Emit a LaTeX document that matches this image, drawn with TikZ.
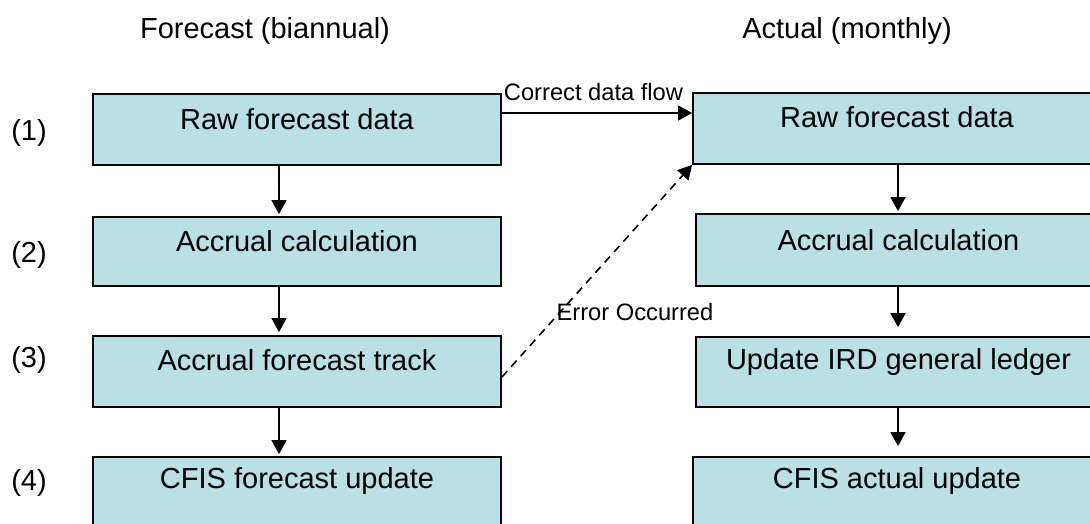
\documentclass[tikz,border=0pt]{standalone}
\usepackage{fontspec}
\setmainfont{Liberation Sans}
\usetikzlibrary{arrows.meta}
\definecolor{boxfill}{RGB}{185,224,228}
\tikzset{
  flowbox/.style={draw=black, fill=boxfill, line width=1.8pt, inner sep=0pt},
  boxtext/.style={font=\fontsize{29}{34}\selectfont, inner sep=0pt},
  headtext/.style={font=\fontsize{29}{34}\selectfont, inner sep=0pt},
  rowlabel/.style={font=\fontsize{29}{34}\selectfont, inner sep=0pt},
  smalllabel/.style={font=\fontsize{23.7}{28}\selectfont, inner sep=0pt},
  arr/.style={line width=1.6pt, -{Triangle[length=14pt,width=15pt]}},
  dasharr/.style={arr, dash pattern=on 8pt off 6pt}
}
\begin{document}
\begin{tikzpicture}[x=1pt,y=-1pt]
\useasboundingbox (0,0) rectangle (1090,523);
\clip (0,0) rectangle (1090,523);
% headers
\node[headtext] (h1) at (265,31) {Forecast (biannual)};
\node[headtext] (h2) at (847,31) {Actual (monthly)};
% row labels
\node[rowlabel] (n1) at (29,133) {(1)};
\node[rowlabel] (n2) at (29,255) {(2)};
\node[rowlabel] (n3) at (29,360) {(3)};
\node[rowlabel] (n4) at (29,483) {(4)};
% left column boxes
\node[flowbox, minimum width=408pt, minimum height=71pt] (l1) at (297,129.5) {};
\node[flowbox, minimum width=408pt, minimum height=69pt] (l2) at (297,251.5) {};
\node[flowbox, minimum width=408pt, minimum height=71pt] (l3) at (297,371.5) {};
\node[flowbox, minimum width=408pt, minimum height=80pt] (l4) at (297,497) {};
% right column boxes
\node[flowbox, minimum width=408pt, minimum height=71pt] (r1) at (897,128.5) {};
\node[flowbox, minimum width=405pt, minimum height=72pt] (r2) at (898.5,250) {};
\node[flowbox, minimum width=405pt, minimum height=70pt] (r3) at (898.5,372) {};
\node[flowbox, minimum width=408pt, minimum height=80pt] (r4) at (897,497) {};
% box texts
\node[boxtext] (l1t) at ([yshift=-26pt]l1.north) {Raw forecast data};
\node[boxtext] (l2t) at ([yshift=-25pt]l2.north) {Accrual calculation};
\node[boxtext] (l3t) at ([yshift=-25pt]l3.north) {Accrual forecast track};
\node[boxtext] (l4t) at ([yshift=-25pt]l4.north) {CFIS forecast update};
\node[boxtext] (r1t) at ([yshift=-25pt]r1.north) {Raw forecast data};
\node[boxtext] (r2t) at ([yshift=-27pt]r2.north) {Accrual calculation};
\node[boxtext] (r3t) at ([yshift=-26pt]r3.north) {Update IRD general ledger};
\node[boxtext] (r4t) at ([yshift=-25pt]r4.north) {CFIS actual update};
% column arrow x positions
\coordinate (lax) at (279,0);
\coordinate (rax) at (898,0);
\draw[arr, shorten >=2pt] (l1.south -| lax) -- (l2.north -| lax);
\draw[arr, shorten >=3pt] (l2.south -| lax) -- (l3.north -| lax);
\draw[arr, shorten >=2pt] (l3.south -| lax) -- (l4.north -| lax);
\draw[arr, shorten >=2pt] (r1.south -| rax) -- (r2.north -| rax);
\draw[arr, shorten >=9pt] (r2.south -| rax) -- (r3.north -| rax);
\draw[arr, shorten >=10pt] (r3.south -| rax) -- (r4.north -| rax);
% cross arrows
\coordinate (cfy) at (0,113);
\draw[arr] (cfy -| l1.east) -- (cfy -| r1.west);
\node[smalllabel] (cfl) at (593.5,92) {Correct data flow};
\draw[dasharr] ([yshift=-5.5pt]l3.east) -- (r1.south west);
\node[smalllabel] (eol) at (635,312) {Error Occurred};
\end{tikzpicture}
\end{document}
